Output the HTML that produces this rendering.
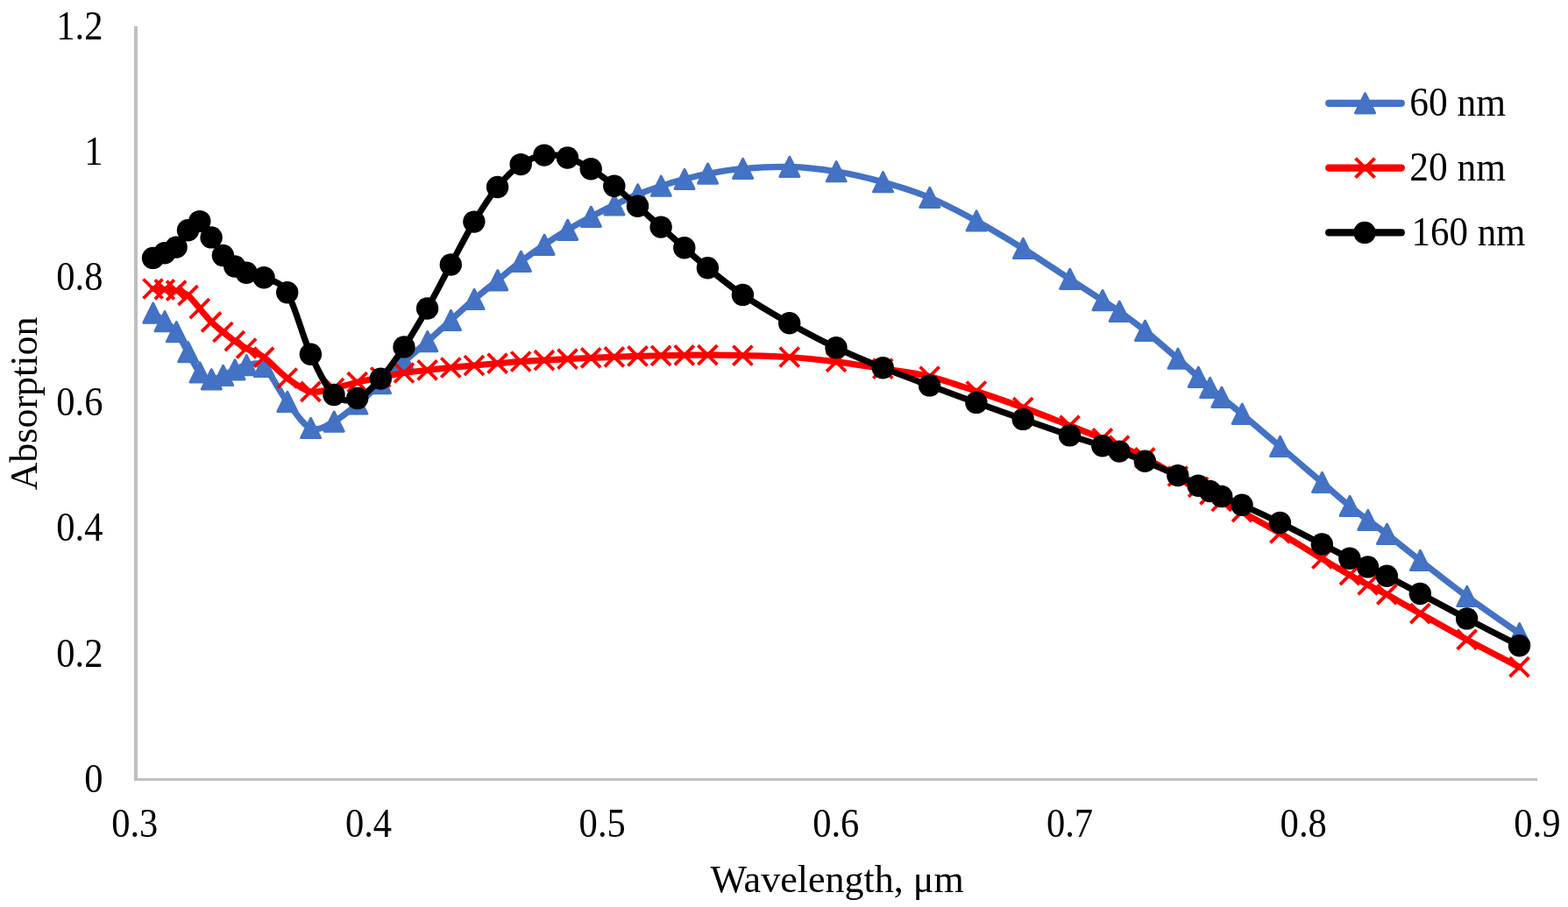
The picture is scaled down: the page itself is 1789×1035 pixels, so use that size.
<!DOCTYPE html>
<html lang="en">
<head>
<meta charset="utf-8">
<title>Absorption vs Wavelength</title>
<style>
html,body{margin:0;padding:0;background:#fff;}
body{width:1789px;height:1035px;overflow:hidden;}
svg{display:block;}
text{font-family:"Liberation Serif","DejaVu Serif",serif;font-size:45.4px;fill:#000;}
</style>
</head>
<body>
<svg width="1789" height="1035" viewBox="0 0 1789 1035">
<rect width="1789" height="1035" fill="#fff"/>
<g fill="#BFBFBF" shape-rendering="crispEdges"><rect x="153" y="30" width="4" height="861"/><rect x="153" y="888" width="1601" height="3"/></g>
<g text-anchor="end"><text transform="translate(117.4 903.7) scale(0.937 1)">0</text><text transform="translate(117.4 760.5) scale(0.937 1)">0.2</text><text transform="translate(117.4 617.4) scale(0.937 1)">0.4</text><text transform="translate(117.4 474.2) scale(0.937 1)">0.6</text><text transform="translate(117.4 331.1) scale(0.937 1)">0.8</text><text transform="translate(117.4 187.9) scale(0.937 1)">1</text><text transform="translate(117.4 44.7) scale(0.937 1)">1.2</text></g>
<g text-anchor="middle"><text transform="translate(153.8 955) scale(0.937 1)">0.3</text><text transform="translate(420.5 955) scale(0.937 1)">0.4</text><text transform="translate(687.2 955) scale(0.937 1)">0.5</text><text transform="translate(953.8 955) scale(0.937 1)">0.6</text><text transform="translate(1220.5 955) scale(0.937 1)">0.7</text><text transform="translate(1487.2 955) scale(0.937 1)">0.8</text><text transform="translate(1753.9 955) scale(0.937 1)">0.9</text><text transform="translate(955.1 1018.3) scale(0.99 1)" style="font-size:44.5px">Wavelength, μm</text><text transform="translate(42 460.5) rotate(-90) scale(0.99 1)" style="font-size:44.5px">Absorption</text></g>
<path d="M174.5 357.3C176.7 358.9 183.4 363.2 187.8 366.8C192.3 370.4 196.7 373 201.1 378.8C205.6 384.6 210 394.1 214.5 401.8C218.9 409.5 223.3 419.9 227.8 425.1C232.2 430.3 236.7 432.3 241.1 432.9C245.6 433.5 250 430.3 254.4 428.5C258.9 426.7 263.3 423.9 267.8 422C272.2 420.1 275.5 417.4 281.1 416.8C286.6 416.2 293.6 411.7 301.1 418.4C308.8 425.3 318.8 446.7 327.7 458.4C336.6 470.1 345.5 484.8 354.4 488.6C363.3 492.4 372.1 485.8 381 481.2C389.9 476.6 398.8 468.4 407.7 461.1C416.6 453.9 425.4 445.8 434.3 437.7C443.2 429.6 452.1 420.7 461 412.7C469.9 404.7 478.7 397.6 487.6 389.7C496.5 381.9 505.4 373.6 514.3 365.6C523.2 357.6 532 349.2 540.9 341.6C549.8 334 558.7 327.1 567.6 319.9C576.5 312.7 585.3 305.2 594.2 298.4C603.1 291.7 612 285.4 620.9 279.4C629.8 273.4 638.6 267.7 647.5 262.4C656.4 257.1 665.3 252.1 674.2 247.4C683.1 242.7 691.9 238.2 700.8 234C709.7 229.8 718.6 225.5 727.5 221.9C736.4 218.3 745.2 215.2 754.1 212.3C763 209.4 771.9 206.8 780.8 204.5C789.7 202.2 796.3 200.2 807.4 198.2C818.5 196.2 831.9 193.8 847.4 192.5C862.9 191.2 882.9 189.9 900.7 190.4C918.5 190.9 936.2 192.9 954 195.8C971.8 198.7 989.5 202.8 1007.3 207.8C1025.1 212.8 1042.8 218.1 1060.6 225.5C1078.4 232.9 1096.1 242.4 1113.9 252.1C1131.7 261.8 1149.4 272.6 1167.2 283.6C1185 294.7 1205.4 308.6 1220.5 318.4C1235.6 328.3 1248.4 336.5 1257.8 342.7C1267.2 348.9 1268.9 349.6 1277 355.4C1285.1 361.2 1295.2 368.4 1306.3 377.4C1317.4 386.4 1333.6 400.5 1343.8 409.3C1353.9 418.1 1361 424.9 1367.1 430.4C1373.2 436 1376 438.8 1380.4 442.6C1384.8 446.4 1387.6 448.4 1393.7 453.4C1399.8 458.4 1405.9 463.1 1417 472.4C1428.1 481.8 1445.1 496.5 1460.4 509.5C1475.6 522.5 1495.1 539.3 1508.3 550.6C1521.6 561.9 1531.2 570.4 1539.9 577.5C1548.6 584.6 1553.5 588.2 1560.6 593.5C1567.6 598.8 1572.3 601.7 1582.3 609.4C1592.2 617.1 1605 627.7 1620.3 639.6C1635.5 651.5 1654.7 666.7 1673.6 680.6C1692.4 694.5 1723.5 715.8 1733.5 722.8" fill="none" stroke="#4472C4" stroke-width="7.2" stroke-linecap="round" stroke-linejoin="round"/>
<g fill="#4472C4" stroke="#4472C4" stroke-width="3" stroke-linejoin="round"><path d="M174.7 346.1 L185.7 368.3 L163.7 368.3 Z"/><path d="M188 355.6 L199 377.8 L177 377.8 Z"/><path d="M201.3 367.6 L212.3 389.8 L190.3 389.8 Z"/><path d="M214.7 390.6 L225.7 412.8 L203.7 412.8 Z"/><path d="M228 413.9 L239 436.1 L217 436.1 Z"/><path d="M241.3 421.7 L252.3 443.9 L230.3 443.9 Z"/><path d="M254.6 417.3 L265.6 439.5 L243.6 439.5 Z"/><path d="M268 410.8 L279 433 L257 433 Z"/><path d="M281.3 405.6 L292.3 427.8 L270.3 427.8 Z"/><path d="M301.3 407.2 L312.3 429.4 L290.3 429.4 Z"/><path d="M327.9 447.2 L338.9 469.4 L316.9 469.4 Z"/><path d="M354.6 477.4 L365.6 499.6 L343.6 499.6 Z"/><path d="M381.2 470 L392.2 492.2 L370.2 492.2 Z"/><path d="M407.9 449.9 L418.9 472.1 L396.9 472.1 Z"/><path d="M434.5 426.5 L445.5 448.7 L423.5 448.7 Z"/><path d="M461.2 401.5 L472.2 423.7 L450.2 423.7 Z"/><path d="M487.8 378.5 L498.8 400.7 L476.8 400.7 Z"/><path d="M514.5 354.4 L525.5 376.6 L503.5 376.6 Z"/><path d="M541.1 330.4 L552.1 352.6 L530.1 352.6 Z"/><path d="M567.8 308.7 L578.8 330.9 L556.8 330.9 Z"/><path d="M594.4 287.2 L605.4 309.4 L583.4 309.4 Z"/><path d="M621.1 268.2 L632.1 290.4 L610.1 290.4 Z"/><path d="M647.7 251.2 L658.7 273.4 L636.7 273.4 Z"/><path d="M674.4 236.2 L685.4 258.4 L663.4 258.4 Z"/><path d="M701 222.8 L712 245 L690 245 Z"/><path d="M727.7 210.7 L738.7 232.9 L716.7 232.9 Z"/><path d="M754.3 201.1 L765.3 223.3 L743.3 223.3 Z"/><path d="M781 193.3 L792 215.5 L770 215.5 Z"/><path d="M807.6 187 L818.6 209.2 L796.6 209.2 Z"/><path d="M847.6 181.3 L858.6 203.5 L836.6 203.5 Z"/><path d="M900.9 179.2 L911.9 201.4 L889.9 201.4 Z"/><path d="M954.2 184.6 L965.2 206.8 L943.2 206.8 Z"/><path d="M1007.5 196.6 L1018.5 218.8 L996.5 218.8 Z"/><path d="M1060.8 214.3 L1071.8 236.5 L1049.8 236.5 Z"/><path d="M1114.1 240.9 L1125.1 263.1 L1103.1 263.1 Z"/><path d="M1167.4 272.4 L1178.4 294.6 L1156.4 294.6 Z"/><path d="M1220.7 307.2 L1231.7 329.4 L1209.7 329.4 Z"/><path d="M1258 331.5 L1269 353.7 L1247 353.7 Z"/><path d="M1277.2 344.2 L1288.2 366.4 L1266.2 366.4 Z"/><path d="M1306.5 366.2 L1317.5 388.4 L1295.5 388.4 Z"/><path d="M1344 398.1 L1355 420.3 L1333 420.3 Z"/><path d="M1367.3 419.2 L1378.3 441.4 L1356.3 441.4 Z"/><path d="M1380.6 431.4 L1391.6 453.6 L1369.6 453.6 Z"/><path d="M1393.9 442.2 L1404.9 464.4 L1382.9 464.4 Z"/><path d="M1417.2 461.2 L1428.2 483.4 L1406.2 483.4 Z"/><path d="M1460.6 498.3 L1471.6 520.5 L1449.6 520.5 Z"/><path d="M1508.5 539.4 L1519.5 561.6 L1497.5 561.6 Z"/><path d="M1540.1 566.3 L1551.1 588.5 L1529.1 588.5 Z"/><path d="M1560.8 582.3 L1571.8 604.5 L1549.8 604.5 Z"/><path d="M1582.5 598.2 L1593.5 620.4 L1571.5 620.4 Z"/><path d="M1620.5 628.4 L1631.5 650.6 L1609.5 650.6 Z"/><path d="M1673.8 669.4 L1684.8 691.6 L1662.8 691.6 Z"/><path d="M1733.7 711.6 L1744.7 733.8 L1722.7 733.8 Z"/></g>
<path d="M174.5 329.5C176.7 329.6 183.4 329.9 187.8 330.3C192.3 330.7 196.7 330.6 201.1 331.7C205.6 332.8 210 333.6 214.5 337C218.9 340.4 223.3 347.1 227.8 352.1C232.2 357.2 236.7 362.8 241.1 367.3C245.6 371.8 250 375.4 254.4 379C258.9 382.6 263.3 386 267.8 389.1C272.2 392.2 275.5 394.4 281.1 397.5C286.6 400.6 293.3 401.9 301.1 407.6C308.8 413.3 318.8 424.9 327.7 431.5C336.6 438.1 345.5 445 354.4 446.9C363.3 448.8 372.1 444.8 381 443C389.9 441.2 398.8 438.3 407.7 436.2C416.6 434.1 425.4 432.3 434.3 430.5C443.2 428.7 452.1 426.9 461 425.5C469.9 424.1 478.7 423.4 487.6 422.4C496.5 421.4 505.4 420.4 514.3 419.5C523.2 418.6 532 417.8 540.9 417C549.8 416.2 558.7 415.4 567.6 414.7C576.5 413.9 585.3 413.1 594.2 412.5C603.1 411.9 612 411.6 620.9 411.1C629.8 410.6 638.6 410.1 647.5 409.6C656.4 409.2 665.3 408.8 674.2 408.4C683.1 408 691.9 407.6 700.8 407.3C709.7 407 718.6 406.6 727.5 406.4C736.4 406.1 745.2 406 754.1 405.8C763 405.6 771.9 405.4 780.8 405.3C789.7 405.2 796.3 405.1 807.4 405.1C818.5 405.2 831.9 405.2 847.4 405.6C862.9 406 882.9 406.3 900.7 407.5C918.5 408.7 936.2 410.7 954 412.9C971.8 415.1 989.5 417.9 1007.3 420.7C1025.1 423.5 1042.8 425.4 1060.6 429.7C1078.4 434 1096.1 440.6 1113.9 446.5C1131.7 452.4 1149.4 458.5 1167.2 465C1185 471.5 1205.4 479.8 1220.5 485.7C1235.6 491.6 1248.4 496.6 1257.8 500.4C1267.2 504.2 1268.9 505 1277 508.6C1285.1 512.2 1295.2 516.5 1306.3 522.3C1317.4 528.1 1333.6 537.9 1343.8 543.5C1353.9 549.1 1361 552.3 1367.1 555.8C1373.2 559.3 1376 561.7 1380.4 564.4C1384.8 567.1 1387.6 568.7 1393.7 572C1399.8 575.3 1405.9 578.1 1417 584.2C1428.1 590.3 1445.1 599.5 1460.4 608.4C1475.6 617.3 1495.1 629.5 1508.3 637.5C1521.6 645.5 1531.2 651.2 1539.9 656.2C1548.6 661.2 1553.5 663.6 1560.6 667.3C1567.6 671 1572.3 672.9 1582.3 678.4C1592.2 683.9 1605 691.5 1620.3 700.1C1635.5 708.7 1654.7 719.7 1673.6 729.9C1692.4 740.1 1723.5 756 1733.5 761.2" fill="none" stroke="#FF0000" stroke-width="7.2" stroke-linecap="round" stroke-linejoin="round"/>
<g fill="none" stroke="#FF0000" stroke-width="3.8" stroke-linecap="butt"><path d="M163.5 318.5 L185.5 340.5 M163.5 340.5 L185.5 318.5"/><path d="M176.8 319.3 L198.8 341.3 M176.8 341.3 L198.8 319.3"/><path d="M190.1 320.7 L212.1 342.7 M190.1 342.7 L212.1 320.7"/><path d="M203.5 326 L225.5 348 M203.5 348 L225.5 326"/><path d="M216.8 341.1 L238.8 363.1 M216.8 363.1 L238.8 341.1"/><path d="M230.1 356.3 L252.1 378.3 M230.1 378.3 L252.1 356.3"/><path d="M243.4 368 L265.4 390 M243.4 390 L265.4 368"/><path d="M256.8 378.1 L278.8 400.1 M256.8 400.1 L278.8 378.1"/><path d="M270.1 386.5 L292.1 408.5 M270.1 408.5 L292.1 386.5"/><path d="M290.1 396.6 L312.1 418.6 M290.1 418.6 L312.1 396.6"/><path d="M316.7 420.5 L338.7 442.5 M316.7 442.5 L338.7 420.5"/><path d="M343.4 435.9 L365.4 457.9 M343.4 457.9 L365.4 435.9"/><path d="M370 432 L392 454 M370 454 L392 432"/><path d="M396.7 425.2 L418.7 447.2 M396.7 447.2 L418.7 425.2"/><path d="M423.3 419.5 L445.3 441.5 M423.3 441.5 L445.3 419.5"/><path d="M450 414.5 L472 436.5 M450 436.5 L472 414.5"/><path d="M476.6 411.4 L498.6 433.4 M476.6 433.4 L498.6 411.4"/><path d="M503.3 408.5 L525.3 430.5 M503.3 430.5 L525.3 408.5"/><path d="M529.9 406 L551.9 428 M529.9 428 L551.9 406"/><path d="M556.6 403.7 L578.6 425.7 M556.6 425.7 L578.6 403.7"/><path d="M583.2 401.5 L605.2 423.5 M583.2 423.5 L605.2 401.5"/><path d="M609.9 400.1 L631.9 422.1 M609.9 422.1 L631.9 400.1"/><path d="M636.5 398.6 L658.5 420.6 M636.5 420.6 L658.5 398.6"/><path d="M663.2 397.4 L685.2 419.4 M663.2 419.4 L685.2 397.4"/><path d="M689.8 396.3 L711.8 418.3 M689.8 418.3 L711.8 396.3"/><path d="M716.5 395.4 L738.5 417.4 M716.5 417.4 L738.5 395.4"/><path d="M743.1 394.8 L765.1 416.8 M743.1 416.8 L765.1 394.8"/><path d="M769.8 394.3 L791.8 416.3 M769.8 416.3 L791.8 394.3"/><path d="M796.4 394.1 L818.4 416.1 M796.4 416.1 L818.4 394.1"/><path d="M836.4 394.6 L858.4 416.6 M836.4 416.6 L858.4 394.6"/><path d="M889.7 396.5 L911.7 418.5 M889.7 418.5 L911.7 396.5"/><path d="M943 401.9 L965 423.9 M943 423.9 L965 401.9"/><path d="M996.3 409.7 L1018.3 431.7 M996.3 431.7 L1018.3 409.7"/><path d="M1049.6 418.7 L1071.6 440.7 M1049.6 440.7 L1071.6 418.7"/><path d="M1102.9 435.5 L1124.9 457.5 M1102.9 457.5 L1124.9 435.5"/><path d="M1156.2 454 L1178.2 476 M1156.2 476 L1178.2 454"/><path d="M1209.5 474.7 L1231.5 496.7 M1209.5 496.7 L1231.5 474.7"/><path d="M1246.8 489.4 L1268.8 511.4 M1246.8 511.4 L1268.8 489.4"/><path d="M1266 497.6 L1288 519.6 M1266 519.6 L1288 497.6"/><path d="M1295.3 511.3 L1317.3 533.3 M1295.3 533.3 L1317.3 511.3"/><path d="M1332.8 532.5 L1354.8 554.5 M1332.8 554.5 L1354.8 532.5"/><path d="M1356.1 544.8 L1378.1 566.8 M1356.1 566.8 L1378.1 544.8"/><path d="M1369.4 553.4 L1391.4 575.4 M1369.4 575.4 L1391.4 553.4"/><path d="M1382.7 561 L1404.7 583 M1382.7 583 L1404.7 561"/><path d="M1406 573.2 L1428 595.2 M1406 595.2 L1428 573.2"/><path d="M1449.4 597.4 L1471.4 619.4 M1449.4 619.4 L1471.4 597.4"/><path d="M1497.3 626.5 L1519.3 648.5 M1497.3 648.5 L1519.3 626.5"/><path d="M1528.9 645.2 L1550.9 667.2 M1528.9 667.2 L1550.9 645.2"/><path d="M1549.6 656.3 L1571.6 678.3 M1549.6 678.3 L1571.6 656.3"/><path d="M1571.3 667.4 L1593.3 689.4 M1571.3 689.4 L1593.3 667.4"/><path d="M1609.3 689.1 L1631.3 711.1 M1609.3 711.1 L1631.3 689.1"/><path d="M1662.6 718.9 L1684.6 740.9 M1662.6 740.9 L1684.6 718.9"/><path d="M1722.5 750.2 L1744.5 772.2 M1722.5 772.2 L1744.5 750.2"/></g>
<path d="M174.5 294.4C176.7 293.5 183.4 290.9 187.8 288.8C192.3 286.8 196.7 286.4 201.1 282.1C205.6 277.7 210 267.6 214.5 262.7C218.9 257.8 223.3 251.2 227.8 252.6C232.2 254 236.7 264.4 241.1 270.9C245.6 277.4 250 286 254.4 291.5C258.9 297 263.3 300.7 267.8 304C272.2 307.3 275.5 309.1 281.1 311.2C286.6 313.3 293.3 313 301.1 316.8C308.8 320.6 319.5 320.3 327.7 333.8C336.6 348.4 345.5 384.8 354.4 404.2C363.3 423.6 372.1 442.1 381 450.5C389.9 458.9 398.8 457.6 407.7 454.5C416.6 451.4 425.4 441.9 434.3 432.1C443.2 422.3 452.1 409.2 461 395.9C469.9 382.5 478.7 367.6 487.6 352C496.5 336.4 505.4 318.5 514.3 302C523.2 285.5 532 267.9 540.9 253.1C549.8 238.3 558.7 224.4 567.6 213.5C576.5 202.6 585.3 193.7 594.2 187.6C603.1 181.5 612 178.4 620.9 177.1C629.8 175.8 638.6 177.4 647.5 180C656.4 182.6 665.3 187.3 674.2 192.7C683.1 198.1 691.9 205.1 700.8 212.2C709.7 219.3 718.6 227.4 727.5 235.2C736.4 243 745.2 251.2 754.1 259.1C763 267 771.9 275 780.8 282.8C789.7 290.6 796.3 296.8 807.4 305.7C818.5 314.6 831.9 325.9 847.4 336.4C862.9 346.9 882.9 358.7 900.7 368.8C918.5 378.9 936.2 388.3 954 396.8C971.8 405.3 989.5 412.6 1007.3 419.8C1025.1 427 1042.8 433.3 1060.6 439.9C1078.4 446.5 1096.1 453 1113.9 459.4C1131.7 465.8 1149.4 472.1 1167.2 478.4C1185 484.6 1205.4 491.8 1220.5 496.9C1235.6 502 1248.4 505.8 1257.8 508.8C1267.2 511.8 1268.9 512.2 1277 515.1C1285.1 518 1295.2 521.7 1306.3 526.3C1317.4 530.9 1333.6 538 1343.8 542.6C1353.9 547.2 1361 551.2 1367.1 554.2C1373.2 557.2 1376 558.5 1380.4 560.5C1384.8 562.5 1387.6 563.9 1393.7 566.5C1399.8 569.1 1405.9 571.2 1417 576.2C1428.1 581.2 1445.1 589 1460.4 596.5C1475.6 604 1495.1 614.2 1508.3 621C1521.6 627.8 1531.2 632.9 1539.9 637.2C1548.6 641.5 1553.5 643.6 1560.6 646.9C1567.6 650.2 1572.3 652.1 1582.3 657.2C1592.2 662.3 1605 669.4 1620.3 677.5C1635.5 685.6 1654.7 696 1673.6 705.9C1692.4 715.8 1723.5 731.7 1733.5 736.8" fill="none" stroke="#000000" stroke-width="7.2" stroke-linecap="round" stroke-linejoin="round"/>
<g fill="#000000"><circle cx="174.5" cy="294.4" r="12.7"/><circle cx="187.8" cy="288.8" r="12.7"/><circle cx="201.1" cy="282.1" r="12.7"/><circle cx="214.5" cy="262.7" r="12.7"/><circle cx="227.8" cy="252.6" r="12.7"/><circle cx="241.1" cy="270.9" r="12.7"/><circle cx="254.4" cy="291.5" r="12.7"/><circle cx="267.8" cy="304" r="12.7"/><circle cx="281.1" cy="311.2" r="12.7"/><circle cx="301.1" cy="316.8" r="12.7"/><circle cx="327.7" cy="333.8" r="12.7"/><circle cx="354.4" cy="404.2" r="12.7"/><circle cx="381" cy="450.5" r="12.7"/><circle cx="407.7" cy="454.5" r="12.7"/><circle cx="434.3" cy="432.1" r="12.7"/><circle cx="461" cy="395.9" r="12.7"/><circle cx="487.6" cy="352" r="12.7"/><circle cx="514.3" cy="302" r="12.7"/><circle cx="540.9" cy="253.1" r="12.7"/><circle cx="567.6" cy="213.5" r="12.7"/><circle cx="594.2" cy="187.6" r="12.7"/><circle cx="620.9" cy="177.1" r="12.7"/><circle cx="647.5" cy="180" r="12.7"/><circle cx="674.2" cy="192.7" r="12.7"/><circle cx="700.8" cy="212.2" r="12.7"/><circle cx="727.5" cy="235.2" r="12.7"/><circle cx="754.1" cy="259.1" r="12.7"/><circle cx="780.8" cy="282.8" r="12.7"/><circle cx="807.4" cy="305.7" r="12.7"/><circle cx="847.4" cy="336.4" r="12.7"/><circle cx="900.7" cy="368.8" r="12.7"/><circle cx="954" cy="396.8" r="12.7"/><circle cx="1007.3" cy="419.8" r="12.7"/><circle cx="1060.6" cy="439.9" r="12.7"/><circle cx="1113.9" cy="459.4" r="12.7"/><circle cx="1167.2" cy="478.4" r="12.7"/><circle cx="1220.5" cy="496.9" r="12.7"/><circle cx="1257.8" cy="508.8" r="12.7"/><circle cx="1277" cy="515.1" r="12.7"/><circle cx="1306.3" cy="526.3" r="12.7"/><circle cx="1343.8" cy="542.6" r="12.7"/><circle cx="1367.1" cy="554.2" r="12.7"/><circle cx="1380.4" cy="560.5" r="12.7"/><circle cx="1393.7" cy="566.5" r="12.7"/><circle cx="1417" cy="576.2" r="12.7"/><circle cx="1460.4" cy="596.5" r="12.7"/><circle cx="1508.3" cy="621" r="12.7"/><circle cx="1539.9" cy="637.2" r="12.7"/><circle cx="1560.6" cy="646.9" r="12.7"/><circle cx="1582.3" cy="657.2" r="12.7"/><circle cx="1620.3" cy="677.5" r="12.7"/><circle cx="1673.6" cy="705.9" r="12.7"/><circle cx="1733.5" cy="736.8" r="12.7"/></g>
<path d="M1516.2 117.8 L1598.8 117.8" fill="none" stroke="#4472C4" stroke-width="8.2" stroke-linecap="round"/><g fill="#4472C4" stroke="#4472C4" stroke-width="3" stroke-linejoin="round"><path d="M1557.5 106.7 L1568.5 128.9 L1546.5 128.9 Z"/></g><g text-anchor="start"><text transform="translate(1608.3 132.3) scale(0.957 1)">60 nm</text></g>
<path d="M1516.2 191.6 L1598.8 191.6" fill="none" stroke="#FF0000" stroke-width="8.2" stroke-linecap="round"/><g fill="none" stroke="#FF0000" stroke-width="4"><path d="M1546.5 180.6 L1568.5 202.6 M1546.5 202.6 L1568.5 180.6"/></g><g text-anchor="start"><text transform="translate(1608.3 206.1) scale(0.957 1)">20 nm</text></g>
<path d="M1516.2 265.4 L1598.8 265.4" fill="none" stroke="#000000" stroke-width="8.2" stroke-linecap="round"/><g fill="#000000"><circle cx="1557" cy="265.4" r="12.7"/></g><g text-anchor="start"><text transform="translate(1610.6 279.9) scale(0.945 1)">160 nm</text></g>
</svg>
</body>
</html>
